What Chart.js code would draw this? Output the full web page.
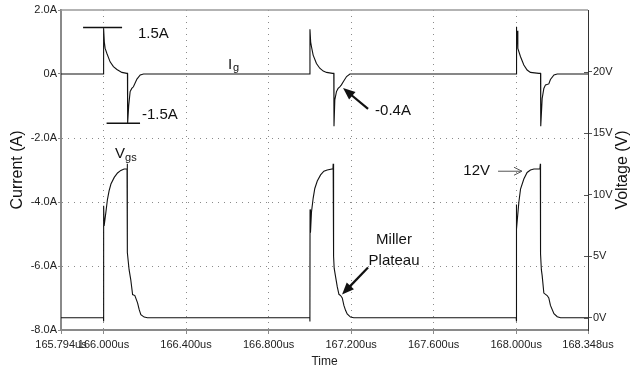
<!DOCTYPE html>
<html><head><meta charset="utf-8">
<script src="https://cdn.jsdelivr.net/npm/chart.js@4/dist/chart.umd.min.js"></script>
<style>html,body{margin:0;padding:0;background:#fff;}</style>
</head><body>
<canvas id="c" width="631" height="369" style="display:block;width:631px;height:369px"></canvas>
<script>
const timeTicks = [165.794, 166.0, 166.4, 166.8, 167.2, 167.6, 168.0, 168.348];
const currentTicks = [2, 0, -2, -4, -6, -8];
const voltageTicks = [20, 15, 10, 5, 0];

const igTime = [165.794, 166.000, 166.0005, 166.004, 166.008, 166.016, 166.032, 166.048, 166.065, 166.089, 166.113, 166.116, 166.117, 166.122, 166.129, 166.137, 166.145, 166.162, 166.178, 166.194,
  167.000, 167.0005, 167.004, 167.008, 167.016, 167.032, 167.048, 167.065, 167.081, 167.110, 167.116, 167.117, 167.121, 167.129, 167.137, 167.145, 167.153, 167.162, 167.178, 167.194,
  168.000, 168.0005, 168.003, 168.005, 168.008, 168.021, 168.037, 168.053, 168.069, 168.110, 168.118, 168.119, 168.126, 168.134, 168.142, 168.158, 168.166, 168.183, 168.199, 168.348];
const igCurrent = [0, 0, 1.43, 1.0, 0.80, 0.65, 0.38, 0.23, 0.14, 0.05, 0.02, 0.02, -1.54, -1.0, -0.55, -0.45, -0.40, -0.16, -0.03, 0,
  0, 1.40, 1.0, 0.85, 0.59, 0.33, 0.18, 0.09, 0.05, 0.02, 0.02, -1.63, -0.81, -0.55, -0.45, -0.40, -0.34, -0.24, -0.08, 0,
  0, 1.48, 1.1, 1.35, 0.80, 0.54, 0.28, 0.125, 0.05, 0.02, 0.02, -1.63, -0.76, -0.45, -0.34, -0.31, -0.17, -0.03, 0, 0];

const vgsTime = [165.794, 166.000, 166.0003, 166.001, 166.003, 166.011, 166.019, 166.027, 166.036, 166.052, 166.068, 166.084, 166.100, 166.114, 166.115, 166.116, 166.124, 166.132, 166.141, 166.152, 166.165, 166.173, 166.181, 166.197, 166.213,
  167.000, 167.0003, 167.001, 167.003, 167.008, 167.016, 167.024, 167.036, 167.052, 167.068, 167.084, 167.112, 167.113, 167.115, 167.118, 167.125, 167.133, 167.141, 167.149, 167.157, 167.165, 167.173, 167.181, 167.197, 167.213,
  168.000, 168.0003, 168.001, 168.003, 168.013, 168.021, 168.037, 168.053, 168.069, 168.086, 168.115, 168.117, 168.118, 168.122, 168.126, 168.134, 168.150, 168.158, 168.166, 168.183, 168.199, 168.215, 168.348];
const vgsVoltage = [0, 0, -0.3, 9.1, 7.45, 8.5, 9.6, 10.3, 10.86, 11.4, 11.76, 11.97, 12.08, 12.1, 12.5, 5.3, 3.9, 3.1, 1.88, 1.8, 1.2, 0.65, 0.25, 0.05, 0,
  0, -0.3, 8.8, 6.9, 8.6, 9.7, 10.5, 11.1, 11.6, 11.9, 12.0, 12.1, 12.5, 5.0, 4.0, 3.3, 2.5, 1.9, 1.8, 1.6, 1.0, 0.6, 0.3, 0.05, 0,
  0, -0.3, 9.2, 7.2, 9.4, 10.45, 11.27, 11.8, 12.0, 12.08, 12.1, 12.5, 5.2, 3.9, 3.4, 2.0, 1.8, 1.6, 1.0, 0.33, 0.08, 0, 0];

const FONT = '"Liberation Sans", Arial, sans-serif';
const xMin = timeTicks[0], xMax = timeTicks[timeTicks.length - 1];

const notes = {
  id: 'notes',
  afterDatasetsDraw(chart) {
    const {ctx, chartArea: a, scales} = chart;
    const px = t => scales.x.getPixelForValue(t);
    const pi = v => scales.y.getPixelForValue(v);
    const pv = v => scales.y1.getPixelForValue(v);
    ctx.save();
    const line = (x1, y1, x2, y2, w, c) => {
      ctx.strokeStyle = c; ctx.lineWidth = w;
      ctx.beginPath(); ctx.moveTo(x1, y1); ctx.lineTo(x2, y2); ctx.stroke();
    };
    // top frame
    line(a.left, a.top, a.right, a.top, 1.5, '#9a9a9a');
    // inner half of right-axis tick marks
    scales.y1.ticks.forEach(t => {
      const yy = Math.round(pv(t.value)) + 0.5;
      line(a.right - 4, yy, a.right, yy, 1, '#555');
    });
    const text = (s, x, y, size, align, base) => {
      ctx.font = size + 'px ' + FONT; ctx.fillStyle = '#111';
      ctx.textAlign = align || 'left'; ctx.textBaseline = base || 'middle';
      ctx.fillText(s, x, y);
    };
    const arrow = (x1, y1, x2, y2, filled) => {
      const ang = Math.atan2(y2 - y1, x2 - x1);
      const L = filled ? 12 : 8, W = filled ? 5 : 4;
      if (filled) {
        line(x1, y1, x2 - Math.cos(ang) * L * 0.8, y2 - Math.sin(ang) * L * 0.8, 2.2, '#111');
        ctx.fillStyle = '#111';
        ctx.beginPath();
        ctx.moveTo(x2, y2);
        ctx.lineTo(x2 - L * Math.cos(ang) + W * Math.sin(ang), y2 - L * Math.sin(ang) - W * Math.cos(ang));
        ctx.lineTo(x2 - L * Math.cos(ang) - W * Math.sin(ang), y2 - L * Math.sin(ang) + W * Math.cos(ang));
        ctx.closePath(); ctx.fill();
      } else {
        line(x1, y1, x2, y2, 1, '#555');
        ctx.beginPath();
        ctx.moveTo(x2 - L * Math.cos(ang) + W * Math.sin(ang), y2 - L * Math.sin(ang) - W * Math.cos(ang));
        ctx.lineTo(x2, y2);
        ctx.lineTo(x2 - L * Math.cos(ang) - W * Math.sin(ang), y2 - L * Math.sin(ang) + W * Math.cos(ang));
        ctx.stroke();
      }
    };
    // 1.5A marker
    line(px(165.901), pi(1.45), px(166.090), pi(1.45), 1.5, '#111');
    text('1.5A', px(166.167), pi(1.25), 15);
    // -1.5A marker
    line(px(166.015), pi(-1.54), px(166.177), pi(-1.54), 1.5, '#111');
    text('-1.5A', px(166.186), pi(-1.28), 15);
    // Ig label
    ctx.font = '15px ' + FONT;
    const ix = px(166.603), iy = pi(0.15);
    text('I', ix, iy, 15, 'left', 'alphabetic');
    const iw = ctx.measureText('I').width;
    text('g', ix + iw + 1, iy + 2, 11, 'left', 'alphabetic');
    // -0.4A
    text('-0.4A', px(167.316), pi(-1.16), 15);
    arrow(px(167.282), pi(-1.09), px(167.161), pi(-0.44), true);
    // Vgs label
    const vx = px(166.056), vy = pv(13.0);
    text('V', vx, vy, 15, 'left', 'alphabetic');
    ctx.font = '15px ' + FONT;
    const vw = ctx.measureText('V').width;
    text('gs', vx + vw, vy + 3, 11, 'left', 'alphabetic');
    // Miller Plateau
    text('Miller', px(167.408), pv(6.35), 15, 'center');
    text('Plateau', px(167.408), pv(4.63), 15, 'center');
    arrow(px(167.282), pv(4.08), px(167.156), pv(1.88), true);
    // 12V
    text('12V', px(167.873), pv(11.9), 15, 'right');
    arrow(px(167.912), pv(11.9), px(168.028), pv(11.9), false);
    // right axis title (reads bottom-to-top like the left one)
    ctx.translate(a.right + 35, (a.top + a.bottom) / 2);
    ctx.rotate(-Math.PI / 2);
    text('Voltage (V)', 0, 0, 16, 'center');
    ctx.restore();
  }
};

const gridColor = (edges) => (c) => (c.tick && edges.includes(c.tick.value)) ? 'rgba(0,0,0,0)' : '#8a8a8a';

new Chart(document.getElementById('c'), {
  type: 'line',
  data: {
    datasets: [
      { label: 'Ig', data: igTime.map((t, i) => ({x: t, y: igCurrent[i]})), yAxisID: 'y',
        borderColor: '#111', borderWidth: 1.1, pointRadius: 0, tension: 0, fill: false },
      { label: 'Vgs', data: vgsTime.map((t, i) => ({x: t, y: vgsVoltage[i]})), yAxisID: 'y1',
        borderColor: '#111', borderWidth: 1.1, pointRadius: 0, tension: 0, fill: false }
    ]
  },
  options: {
    responsive: false, animation: false, devicePixelRatio: 1,
    layout: { padding: { top: 10, left: 0, right: 0, bottom: 0 } },
    plugins: { legend: { display: false }, tooltip: { enabled: false } },
    scales: {
      x: {
        type: 'linear', min: xMin, max: xMax,
        afterBuildTicks: s => { s.ticks = timeTicks.map(v => ({value: v})); },
        afterFit: s => { s.height = 39; },
        ticks: { autoSkip: false, maxRotation: 0, padding: 4, color: '#222',
          font: { family: FONT, size: 11 }, callback: v => Number(v).toFixed(3) + 'us' },
        grid: { color: gridColor([xMin, xMax]), lineWidth: 1, tickLength: 4, tickColor: '#8a8a8a' },
        border: { color: '#8a8a8a', width: 2, dash: [1, 5] },
        title: { display: true, text: 'Time', color: '#222', font: { family: FONT, size: 12 }, padding: { top: 0, bottom: 0 } }
      },
      y: {
        position: 'left', min: -8, max: 2,
        afterBuildTicks: s => { s.ticks = currentTicks.map(v => ({value: v})); },
        afterFit: s => { s.width = 61; },
        ticks: { padding: 1, color: '#222', font: { family: FONT, size: 11 },
          callback: v => v === 0 ? '0A' : Number(v).toFixed(1) + 'A' },
        grid: { color: gridColor([2, 0, -8]), lineWidth: 1, tickLength: 3, tickColor: '#8a8a8a' },
        border: { color: '#8a8a8a', width: 2, dash: [1, 5] },
        title: { display: true, text: 'Current (A)', color: '#111', font: { family: FONT, size: 16 }, padding: { top: 8 } }
      },
      y1: {
        position: 'right', min: -1, max: 25,
        afterBuildTicks: s => { s.ticks = voltageTicks.map(v => ({value: v})); },
        afterFit: s => { s.width = 43; },
        ticks: { padding: 1, color: '#222', font: { family: FONT, size: 11 }, callback: v => v + 'V' },
        grid: { drawOnChartArea: false, tickLength: 4, tickColor: '#555' },
        border: { color: '#333', width: 1 }
      }
    }
  },
  plugins: [notes]
});
</script>
</body></html>
